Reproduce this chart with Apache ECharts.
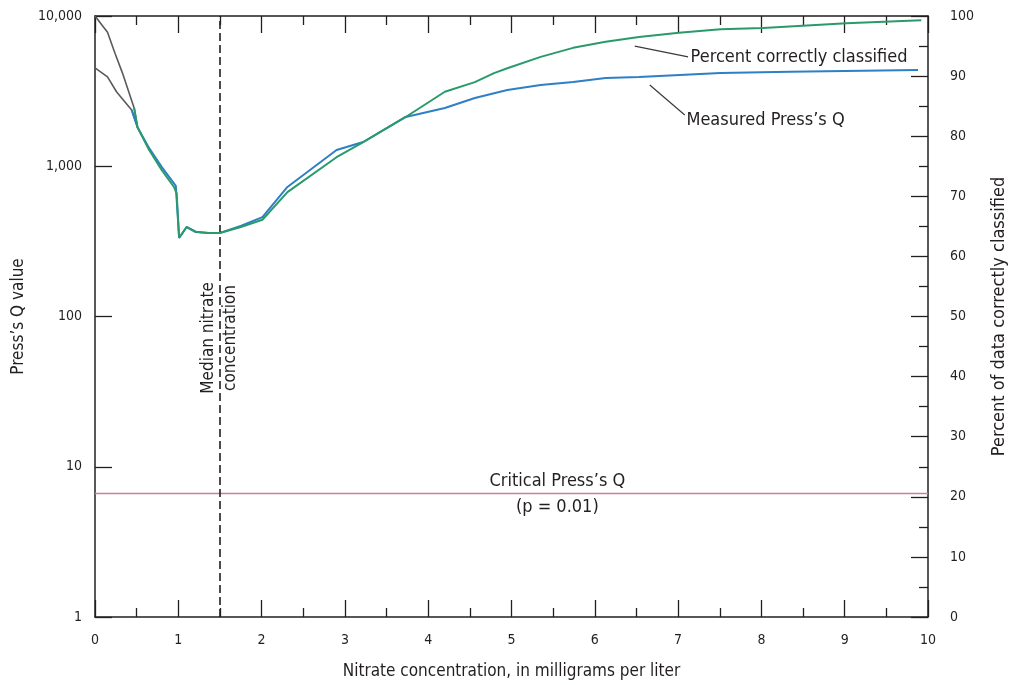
<!DOCTYPE html>
<html>
<head>
<meta charset="utf-8">
<script src="https://cdn.jsdelivr.net/npm/echarts@6/dist/echarts.min.js"></script>
<style>html,body{margin:0;padding:0;background:#fff;overflow:hidden}#c{width:1016px;height:685px}</style>
</head>
<body>
<div id="c"></div>
<script>
// ---- data ----
const nitrateQ = [0,0.15,0.26,0.44,0.51,0.65,0.80,0.97,1.01,1.10,1.21,1.36,1.50,1.75,2.01,2.31,2.90,3.22,3.73,4.20,4.56,4.95,5.35,5.74,6.13,6.53,7.51,8.34,9.88];
const pressQ   = [4510,3930,3120,2370,1820,1320,990,740,333,394,365,360,360,400,459,728,1283,1450,2128,2442,2845,3215,3473,3636,3867,3925,4178,4250,4373];
const nitrateP = [0,0.15,0.24,0.33,0.41,0.47,0.51,0.65,0.80,0.95,0.98,1.01,1.10,1.21,1.36,1.50,1.75,2.01,2.31,2.90,3.22,3.73,4.20,4.56,4.79,4.95,5.35,5.74,6.13,6.53,7.01,7.51,8.02,9.02,9.92];
const pctCorrect = [100,97.3,93.8,90.5,87.2,84.7,81.5,77.7,74.4,71.5,70.5,63.1,64.9,64.1,63.9,63.9,64.9,66.1,70.7,76.5,79.0,83.2,87.4,89.0,90.5,91.3,93.2,94.7,95.7,96.5,97.2,97.8,98.0,98.8,99.3];
const criticalQ = 6.63;
const medianNitrate = 1.5;
const grayEnd = 0.51;     // early part of curves drawn dark gray
const colorStart = 0.44;
const xTickLabels = ['0','1','2','3','4','5','6','7','8','9','10'];
const leftTickLabels = {1:'1',10:'10',100:'100',1000:'1,000',10000:'10,000'};

const FONT = "'Liberation Sans Narrow','DejaVu Sans Condensed',sans-serif";
const TXT = '#231f20';

function pairs(xs, ys, filt){ const out=[]; xs.forEach((x,i)=>{ if(filt(x)) out.push([x,ys[i]]); }); return out; }

const chart = echarts.init(document.getElementById('c'), null, {renderer:'canvas'});
const axisLine = {show:true, onZero:false, lineStyle:{color:'#231f20', width:1.5}};
const tick = {show:true, inside:true, length:17, lineStyle:{color:'#231f20', width:1.3}};
const minor = {show:true, splitNumber:2, length:9, lineStyle:{color:'#231f20', width:1.3}};
const option = {
  animation:false,
  textStyle:{fontFamily:FONT, color:TXT},
  grid:{left:95, right:76, top:16, bottom:68},
  xAxis:[{
    type:'value', min:0, max:10, interval:1, position:'bottom',
    axisLine: axisLine, axisTick: tick, minorTick: minor,
    splitLine:{show:false},
    axisLabel:{fontFamily:FONT, fontSize:14, color:TXT, margin:16, formatter:(v)=>xTickLabels[Math.round(v)]},
    name:'Nitrate concentration, in milligrams per liter', nameLocation:'middle', nameGap:46,
    nameTextStyle:{fontFamily:FONT, fontSize:17, color:TXT}
  },{
    type:'value', min:0, max:10, interval:1, position:'top',
    axisLine: axisLine, axisTick: tick, minorTick: minor,
    splitLine:{show:false}, axisLabel:{show:false}
  }],
  yAxis:[{
    type:'log', logBase:10, min:1, max:10000, position:'left',
    axisLine: axisLine, axisTick: tick,
    splitLine:{show:false},
    axisLabel:{fontFamily:FONT, fontSize:14, color:TXT, margin:13, formatter:(v)=>leftTickLabels[Math.round(v)] || ''},
    name:'Press’s Q value', nameLocation:'middle', nameGap:66, nameRotate:90,
    nameTextStyle:{fontFamily:FONT, fontSize:17, color:TXT}
  },{
    type:'value', min:0, max:100, interval:10, position:'right',
    axisLine: axisLine, axisTick: tick, minorTick: minor,
    splitLine:{show:false},
    axisLabel:{fontFamily:FONT, fontSize:14, color:TXT, margin:22},
    name:'Percent of data correctly classified', nameLocation:'middle', nameGap:62, nameRotate:90,
    nameTextStyle:{fontFamily:FONT, fontSize:18, color:TXT}
  }],
  series:[
    { // critical Press's Q line + median nitrate line
      type:'line', xAxisIndex:0, yAxisIndex:0, symbol:'none', z:2,
      data:[[0,criticalQ],[10,criticalQ]],
      lineStyle:{color:'#c9808f', width:1.5},
      markPoint:{
        symbol:'circle', symbolSize:0, silent:true,
        data:[
          {coord:[5.55,criticalQ], label:{show:true, position:'top', distance:3, formatter:'Critical Press’s Q', fontFamily:FONT, fontSize:18, color:TXT}},
          {coord:[5.55,criticalQ], label:{show:true, position:'bottom', distance:5, formatter:'(p = 0.01)', fontFamily:FONT, fontSize:18, color:TXT}},
          {coord:[medianNitrate,72], label:{show:true, position:'inside', rotate:90, align:'center', verticalAlign:'middle', lineHeight:22, formatter:'Median nitrate\nconcentration', fontFamily:FONT, fontSize:17, color:TXT}}
        ]
      },
      markLine:{
        symbol:'none', silent:true,
        lineStyle:{color:'#231f20', width:1.6, type:[8,4]},
        label:{show:false},
        data:[{xAxis:medianNitrate}]
      }
    },
    { // gray early part of Q
      type:'line', xAxisIndex:0, yAxisIndex:0, symbol:'none', z:3,
      data:pairs(nitrateQ, pressQ, x=>x<=grayEnd),
      lineStyle:{color:'#5a5a5a', width:1.6}
    },
    { // gray early part of percent
      type:'line', xAxisIndex:0, yAxisIndex:1, symbol:'none', z:3,
      data:pairs(nitrateP, pctCorrect, x=>x<=grayEnd),
      lineStyle:{color:'#5a5a5a', width:1.6}
    },
    { // Measured Press's Q
      name:'Measured Press’s Q', type:'line', xAxisIndex:0, yAxisIndex:0, symbol:'none', z:4,
      data:pairs(nitrateQ, pressQ, x=>x>=colorStart),
      lineStyle:{color:'#2e7fc6', width:2},
      markLine:{
        symbol:'none', silent:true, label:{show:false},
        lineStyle:{color:'#3a3a3a', width:1.2, type:'solid'},
        data:[[{coord:[6.66,3475]},{coord:[7.08,2193]}]]
      },
      markPoint:{
        symbol:'circle', symbolSize:0, silent:true,
        data:[{coord:[7.10,2032], label:{show:true, position:'right', distance:0, formatter:'Measured Press’s Q', fontFamily:FONT, fontSize:18, color:TXT}}]
      }
    },
    { // Percent correctly classified
      name:'Percent correctly classified', type:'line', xAxisIndex:0, yAxisIndex:1, symbol:'none', z:5,
      data:pairs(nitrateP, pctCorrect, x=>x>=colorStart),
      lineStyle:{color:'#2a9a6c', width:2},
      markLine:{
        symbol:'none', silent:true, label:{show:false},
        lineStyle:{color:'#3a3a3a', width:1.2, type:'solid'},
        data:[[{coord:[6.48,95.0]},{coord:[7.12,93.2]}]]
      },
      markPoint:{
        symbol:'circle', symbolSize:0, silent:true,
        data:[{coord:[7.15,93.2], label:{show:true, position:'right', distance:0, formatter:'Percent correctly classified', fontFamily:FONT, fontSize:18, color:TXT}}]
      }
    }
  ]
};
chart.setOption(option);
</script>
</body>
</html>
